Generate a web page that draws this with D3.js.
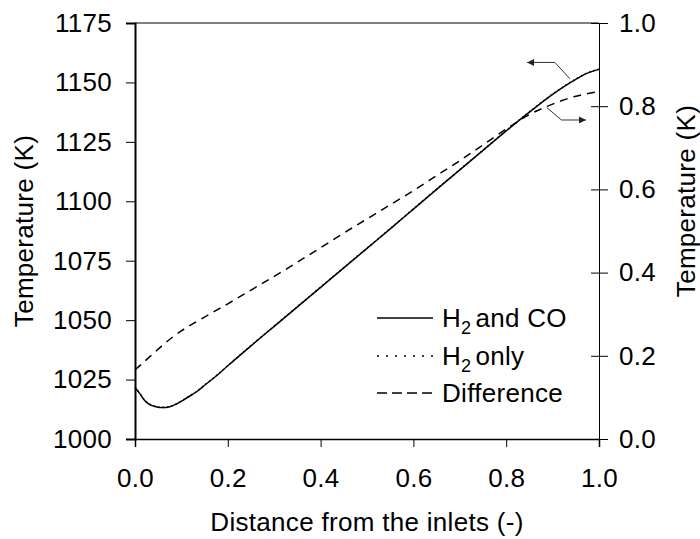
<!DOCTYPE html>
<html><head><meta charset="utf-8">
<script src="https://cdn.jsdelivr.net/npm/d3@7"></script>
<style>
html,body{margin:0;padding:0;background:#fff;}
svg{display:block;font-family:"Liberation Sans",Arial,Helvetica,sans-serif;}
</style></head>
<body><svg id="chart" width="700" height="539"></svg>
<script>
// ---- data ----
const distance = [0,0.01,0.02,0.03,0.045,0.06,0.075,0.09,0.105,0.12,0.135,0.15,0.175,0.2,0.25,0.3,0.35,0.4,0.45,0.5,0.55,0.6,0.65,0.7,0.75,0.8,0.85,0.9,0.95,0.975,1.0];
const tempH2CO  = [1021.7,1019.2,1016.4,1014.7,1013.6,1013.2,1013.6,1014.8,1016.5,1018.3,1020.2,1022.6,1026.5,1030.8,1039.2,1047.4,1055.6,1063.8,1072.0,1080.2,1088.4,1096.7,1105.0,1113.2,1121.4,1129.6,1137.5,1145.0,1151.3,1153.9,1155.5];
const tempH2    = [1021.8,1019.3,1016.5,1014.8,1013.7,1013.3,1013.7,1014.9,1016.6,1018.4,1020.3,1022.7,1026.6,1030.9,1039.3,1047.5,1055.7,1063.9,1072.1,1080.3,1088.5,1096.8,1105.1,1113.3,1121.5,1129.7,1137.6,1145.1,1151.4,1154.0,1155.6];
const diffDist  = [0,0.02,0.04,0.06,0.08,0.1,0.15,0.2,0.25,0.3,0.35,0.4,0.45,0.5,0.55,0.6,0.65,0.7,0.75,0.8,0.85,0.9,0.95,1.0];
const tempDiff  = [0.166,0.186,0.206,0.226,0.244,0.26,0.293,0.325,0.358,0.391,0.425,0.46,0.495,0.529,0.563,0.597,0.633,0.669,0.707,0.745,0.78,0.805,0.824,0.835];
const xTicks = [0,0.2,0.4,0.6,0.8,1.0];
const yLeftTicks = [1000,1025,1050,1075,1100,1125,1150,1175];
const yRightTicks = [0,0.2,0.4,0.6,0.8,1.0];
const legendLabels = [["H","2","and CO"],["H","2","only"],["Difference","",""]];
const xLabel = "Distance from the inlets (-)";
const yLabel = "Temperature (K)";

// ---- layout ----
const L = 135, R = 599, T = 23, B = 439;
const FS = 26, LS = 0.3;
const svg = d3.select("#chart");
const x = d3.scaleLinear().domain([0,1]).range([L,R]);
const yL = d3.scaleLinear().domain([1000,1175]).range([B,T]);
const yR = d3.scaleLinear().domain([0,1]).range([B,T]);

// frame top
svg.append("line").attr("x1",L).attr("x2",R).attr("y1",T).attr("y2",T).attr("stroke","#000").attr("stroke-width",1);

// left axis
const gl = svg.append("g").attr("transform",`translate(${L},0)`)
  .call(d3.axisLeft(yL).tickValues(yLeftTicks).tickSize(9).tickPadding(14).tickFormat(d3.format("d")));
gl.select(".domain").attr("stroke-width",2);
// bottom axis
const gb = svg.append("g").attr("transform",`translate(0,${B})`)
  .call(d3.axisBottom(x).tickValues(xTicks).tickSize(8).tickPadding(22).tickFormat(d3.format(".1f")));
gb.select(".domain").attr("stroke-width",1.5);
// right axis (cross ticks)
const gr = svg.append("g").attr("transform",`translate(${R},0)`)
  .call(d3.axisRight(yR).tickValues(yRightTicks).tickSize(9).tickPadding(11).tickFormat(d3.format(".1f")));
gr.selectAll(".tick line").attr("x1",-8);
[gl,gb,gr].forEach(g=>{
  g.selectAll("text").attr("font-size",FS).attr("letter-spacing",LS).attr("fill","#000").attr("font-family","Liberation Sans, Arial, sans-serif");
  g.select(".domain").attr("stroke","#000");
  g.selectAll(".tick line").attr("stroke","#000");
});

// lines
const lineL = d3.line().x((d,i)=>x(distance[i])).y(d=>yL(d)).curve(d3.curveMonotoneX);
const lineR = d3.line().x((d,i)=>x(diffDist[i])).y(d=>yR(d)).curve(d3.curveMonotoneX);
svg.append("path").datum(tempH2CO).attr("d",lineL).attr("fill","none").attr("stroke","#000").attr("stroke-width",1.5);
svg.append("path").datum(tempH2).attr("d",lineL).attr("fill","none").attr("stroke","#000").attr("stroke-width",1.5).attr("stroke-dasharray","1.5,3");
svg.append("path").datum(tempDiff).attr("d",lineR).attr("fill","none").attr("stroke","#000").attr("stroke-width",1.5).attr("stroke-dasharray","8,6");

// arrows
const defs = svg.append("defs");
defs.append("marker").attr("id","ah").attr("viewBox","0 0 10 10").attr("refX",10).attr("refY",5)
  .attr("markerWidth",10).attr("markerHeight",7).attr("markerUnits","userSpaceOnUse").attr("orient","auto")
  .append("path").attr("d","M0,0L10,5L0,10Z").attr("fill","#222");
const arrow1 = [[0.9375,1151.5],[0.905,1158.4],[0.845,1158.4]];
const arrow2 = [[0.887,1139.5],[0.919,1134.2],[0.972,1134.2]];
const al = d3.line().x(d=>x(d[0])).y(d=>yL(d[1]));
[arrow1,arrow2].forEach(a=>svg.append("path").attr("d",al(a)).attr("fill","none").attr("stroke","#333").attr("stroke-width",1).attr("marker-end","url(#ah)"));

// legend
const legY = [318,356,393];
const dashes = [null,"2,7","10,5"];
legendLabels.forEach((lab,i)=>{
  const ln = svg.append("line").attr("x1",377).attr("x2",433).attr("y1",legY[i]).attr("y2",legY[i]).attr("stroke","#000").attr("stroke-width",1.5);
  if(dashes[i]) ln.attr("stroke-dasharray",dashes[i]);
  const t = svg.append("text").attr("x",442).attr("y",legY[i]+9).attr("font-size",FS).attr("letter-spacing",LS).attr("fill","#000");
  t.append("tspan").text(lab[0]);
  if(lab[1]){
    t.append("tspan").attr("font-size",18).attr("dy",7).text(lab[1]);
    t.append("tspan").attr("dy",-7).attr("dx",4).text(lab[2]);
  }
});

// axis titles
svg.append("text").attr("x",(L+R)/2).attr("y",531).attr("text-anchor","middle").attr("font-size",FS).attr("letter-spacing",LS).text(xLabel);
svg.append("text").attr("transform",`translate(33,${(T+B)/2}) rotate(-90)`).attr("text-anchor","middle").attr("font-size",FS).attr("letter-spacing",LS).text(yLabel);
svg.append("text").attr("transform",`translate(695,${(T+B)/2 - 30}) rotate(-90)`).attr("text-anchor","middle").attr("font-size",FS).attr("letter-spacing",LS).text(yLabel);
</script></body></html>
